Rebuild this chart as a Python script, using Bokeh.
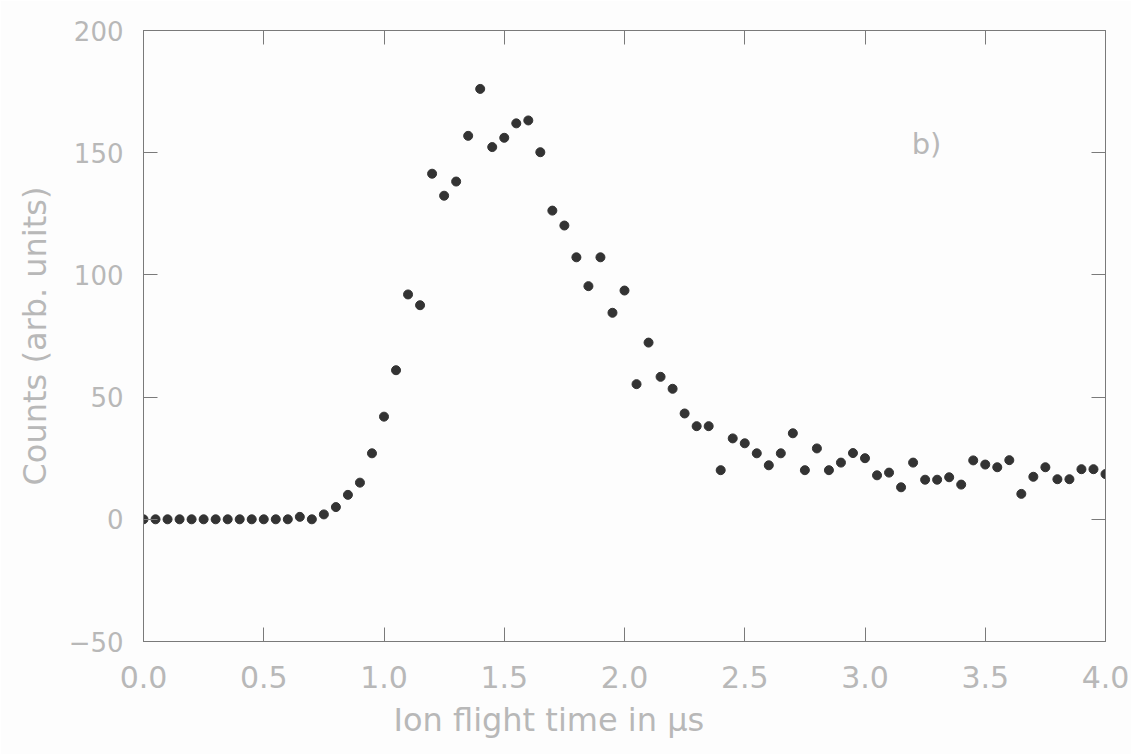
from bokeh.plotting import figure
from bokeh.models import Range1d, LinearAxis, FixedTicker, Label, Title, CustomJSTickFormatter
from bokeh.embed import file_html
from bokeh.resources import INLINE

flight_time = [round(0.05 * i, 2) for i in range(81)]
counts = [0, 0, 0, 0, 0, 0, 0, 0, 0, 0, 0, 0, 0, 1, 0, 2, 5, 10, 15, 27,
          42, 61, 92, 87.6, 141.4, 132.4, 138.2, 156.9, 176.1, 152.3, 156.1, 162, 163.2, 150.2, 126.3, 120.2,
          107.2, 95.4, 107.2, 84.5, 93.6, 55.3, 72.3, 58.3, 53.4, 43.3, 38.1, 38.1, 20.1, 33.1, 31.1,
          27.0, 22.1, 27.0, 35.2, 20.1, 29.0, 20.1, 23.2, 27.1, 25.0, 18.0, 19.1, 13.1, 23.2, 16.2,
          16.2, 17.2, 14.2, 24.1, 22.4, 21.3, 24.2, 10.4, 17.4, 21.3, 16.4, 16.4, 20.5, 20.5, 18.5]
x_ticks = [0.0, 0.5, 1.0, 1.5, 2.0, 2.5, 3.0, 3.5, 4.0]
y_ticks = [-50, 0, 50, 100, 150, 200]
x_title = "Ion flight time in \u03bcs"
y_title = "Counts (arb. units)"
panel_label = "b)"

FONT = "DejaVu Sans"
TXT = "#b8b8b8"
LINE = "#7a7a7a"

p = figure(width=1131, height=754, output_backend="svg", toolbar_location=None,
           x_range=Range1d(0, 4), y_range=Range1d(-50, 200),
           min_border_left=143, min_border_right=26, min_border_top=30, min_border_bottom=113,
           background_fill_color="#fdfdfd", border_fill_color="#fdfdfd")
p.grid.visible = False
p.outline_line_color = LINE
p.outline_line_width = 1

for ax, ticks in ((p.xaxis[0], x_ticks), (p.yaxis[0], y_ticks)):
    ax.ticker = FixedTicker(ticks=ticks)
    ax.major_tick_in = 14
    ax.major_tick_out = 0
    ax.minor_tick_line_color = None
    ax.major_tick_line_color = LINE
    ax.axis_line_color = LINE
    ax.major_label_text_font = FONT
    ax.major_label_text_color = TXT

p.xaxis[0].major_label_text_font_size = "30px"
p.xaxis[0].major_label_standoff = 24
p.yaxis[0].major_label_text_font_size = "26px"
p.yaxis[0].major_label_standoff = 20
p.xaxis[0].formatter = CustomJSTickFormatter(code="return tick.toFixed(1);")
p.yaxis[0].formatter = CustomJSTickFormatter(code="return tick < 0 ? '\u2212' + Math.abs(tick) : '' + tick;")

top = LinearAxis(ticker=FixedTicker(ticks=x_ticks), major_tick_in=14, major_tick_out=0,
                 minor_tick_line_color=None, major_tick_line_color=LINE, axis_line_color=LINE,
                 major_label_text_color=None, major_label_text_font_size="0px")
right = LinearAxis(ticker=FixedTicker(ticks=y_ticks), major_tick_in=14, major_tick_out=0,
                   minor_tick_line_color=None, major_tick_line_color=LINE, axis_line_color=LINE,
                   major_label_text_color=None, major_label_text_font_size="0px")
p.add_layout(top, "above")
p.add_layout(right, "right")

p.scatter(flight_time, counts, size=9, color="#333333", line_color="#333333")

p.add_layout(Title(text=x_title, align="left", offset=250, standoff=16, vertical_align="bottom",
                   text_font=FONT, text_font_size="32px", text_font_style="normal",
                   text_color=TXT), "below")
p.add_layout(Title(text=y_title, align="center", standoff=24, text_font=FONT,
                   text_font_size="32px", text_font_style="normal", text_color=TXT), "left")
p.add_layout(Label(x=3.256, y=153.7, text=panel_label, text_font=FONT, text_font_size="29px",
                   text_color=TXT, text_align="center", text_baseline="middle"))

open("out.html", "w").write(file_html(p, INLINE))
